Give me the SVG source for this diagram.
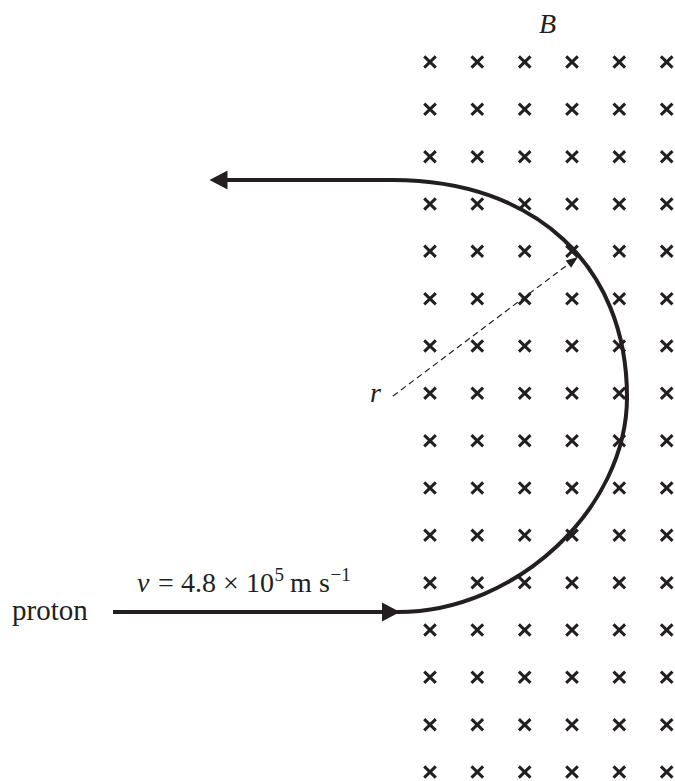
<svg xmlns="http://www.w3.org/2000/svg" xmlns:xlink="http://www.w3.org/1999/xlink" width="675" height="781" viewBox="0 0 675 781">
<style>
.t{font-family:"Liberation Serif","Times New Roman",serif;fill:#231f20}
.i{font-style:italic}
.path{fill:none;stroke:#231f20;stroke-width:4}
.dash{fill:none;stroke:#231f20;stroke-width:1.2;stroke-dasharray:6 4}
.head{fill:#231f20}
.x{stroke:#231f20;stroke-width:3;stroke-linecap:butt}
</style>
<defs>
<g id="cr"><path class="x" d="M-5.8 -5.6 L5.8 5.6 M-5.8 5.6 L5.8 -5.6"/></g>
</defs>
<rect width="675" height="781" fill="#ffffff"/>
<g id="field">
<g id="row0"><use xlink:href="#cr" x="430" y="62"/><use xlink:href="#cr" x="477.3" y="62"/><use xlink:href="#cr" x="524.7" y="62"/><use xlink:href="#cr" x="572" y="62"/><use xlink:href="#cr" x="619.3" y="62"/><use xlink:href="#cr" x="666.7" y="62"/></g>
<g id="row1"><use xlink:href="#cr" x="430" y="109.3"/><use xlink:href="#cr" x="477.3" y="109.3"/><use xlink:href="#cr" x="524.7" y="109.3"/><use xlink:href="#cr" x="572" y="109.3"/><use xlink:href="#cr" x="619.3" y="109.3"/><use xlink:href="#cr" x="666.7" y="109.3"/></g>
<g id="row2"><use xlink:href="#cr" x="430" y="156.7"/><use xlink:href="#cr" x="477.3" y="156.7"/><use xlink:href="#cr" x="524.7" y="156.7"/><use xlink:href="#cr" x="572" y="156.7"/><use xlink:href="#cr" x="619.3" y="156.7"/><use xlink:href="#cr" x="666.7" y="156.7"/></g>
<g id="row3"><use xlink:href="#cr" x="430" y="204"/><use xlink:href="#cr" x="477.3" y="204"/><use xlink:href="#cr" x="524.7" y="204"/><use xlink:href="#cr" x="572" y="204"/><use xlink:href="#cr" x="619.3" y="204"/><use xlink:href="#cr" x="666.7" y="204"/></g>
<g id="row4"><use xlink:href="#cr" x="430" y="251.3"/><use xlink:href="#cr" x="477.3" y="251.3"/><use xlink:href="#cr" x="524.7" y="251.3"/><use xlink:href="#cr" x="572" y="251.3"/><use xlink:href="#cr" x="619.3" y="251.3"/><use xlink:href="#cr" x="666.7" y="251.3"/></g>
<g id="row5"><use xlink:href="#cr" x="430" y="298.7"/><use xlink:href="#cr" x="477.3" y="298.7"/><use xlink:href="#cr" x="524.7" y="298.7"/><use xlink:href="#cr" x="572" y="298.7"/><use xlink:href="#cr" x="619.3" y="298.7"/><use xlink:href="#cr" x="666.7" y="298.7"/></g>
<g id="row6"><use xlink:href="#cr" x="430" y="346"/><use xlink:href="#cr" x="477.3" y="346"/><use xlink:href="#cr" x="524.7" y="346"/><use xlink:href="#cr" x="572" y="346"/><use xlink:href="#cr" x="619.3" y="346"/><use xlink:href="#cr" x="666.7" y="346"/></g>
<g id="row7"><use xlink:href="#cr" x="430" y="393.3"/><use xlink:href="#cr" x="477.3" y="393.3"/><use xlink:href="#cr" x="524.7" y="393.3"/><use xlink:href="#cr" x="572" y="393.3"/><use xlink:href="#cr" x="619.3" y="393.3"/><use xlink:href="#cr" x="666.7" y="393.3"/></g>
<g id="row8"><use xlink:href="#cr" x="430" y="440.7"/><use xlink:href="#cr" x="477.3" y="440.7"/><use xlink:href="#cr" x="524.7" y="440.7"/><use xlink:href="#cr" x="572" y="440.7"/><use xlink:href="#cr" x="619.3" y="440.7"/><use xlink:href="#cr" x="666.7" y="440.7"/></g>
<g id="row9"><use xlink:href="#cr" x="430" y="488"/><use xlink:href="#cr" x="477.3" y="488"/><use xlink:href="#cr" x="524.7" y="488"/><use xlink:href="#cr" x="572" y="488"/><use xlink:href="#cr" x="619.3" y="488"/><use xlink:href="#cr" x="666.7" y="488"/></g>
<g id="row10"><use xlink:href="#cr" x="430" y="535.3"/><use xlink:href="#cr" x="477.3" y="535.3"/><use xlink:href="#cr" x="524.7" y="535.3"/><use xlink:href="#cr" x="572" y="535.3"/><use xlink:href="#cr" x="619.3" y="535.3"/><use xlink:href="#cr" x="666.7" y="535.3"/></g>
<g id="row11"><use xlink:href="#cr" x="430" y="582.7"/><use xlink:href="#cr" x="477.3" y="582.7"/><use xlink:href="#cr" x="524.7" y="582.7"/><use xlink:href="#cr" x="572" y="582.7"/><use xlink:href="#cr" x="619.3" y="582.7"/><use xlink:href="#cr" x="666.7" y="582.7"/></g>
<g id="row12"><use xlink:href="#cr" x="430" y="630"/><use xlink:href="#cr" x="477.3" y="630"/><use xlink:href="#cr" x="524.7" y="630"/><use xlink:href="#cr" x="572" y="630"/><use xlink:href="#cr" x="619.3" y="630"/><use xlink:href="#cr" x="666.7" y="630"/></g>
<g id="row13"><use xlink:href="#cr" x="430" y="677.3"/><use xlink:href="#cr" x="477.3" y="677.3"/><use xlink:href="#cr" x="524.7" y="677.3"/><use xlink:href="#cr" x="572" y="677.3"/><use xlink:href="#cr" x="619.3" y="677.3"/><use xlink:href="#cr" x="666.7" y="677.3"/></g>
<g id="row14"><use xlink:href="#cr" x="430" y="724.7"/><use xlink:href="#cr" x="477.3" y="724.7"/><use xlink:href="#cr" x="524.7" y="724.7"/><use xlink:href="#cr" x="572" y="724.7"/><use xlink:href="#cr" x="619.3" y="724.7"/><use xlink:href="#cr" x="666.7" y="724.7"/></g>
<g id="row15"><use xlink:href="#cr" x="430" y="772"/><use xlink:href="#cr" x="477.3" y="772"/><use xlink:href="#cr" x="524.7" y="772"/><use xlink:href="#cr" x="572" y="772"/><use xlink:href="#cr" x="619.3" y="772"/><use xlink:href="#cr" x="666.7" y="772"/></g>
</g>
<g id="connectors">
<path id="trajectory" class="path" d="M113 612 L398 612 C516.4 612 627 508.2 627 397 C627 265.5 534.8 180 393 180 L224 180"/>
<polygon class="head" points="400,612 382,602.5 382,621.5"/>
<polygon class="head" points="209.5,180 227.5,170.5 227.5,189.5"/>
<path id="radius" class="dash" d="M393 396 L568.4 264.2"/>
<polygon class="head" points="578,257 571.1,267.8 565.7,260.6"/>
</g>
<g id="labels">
<text class="t i" x="539" y="33" font-size="28">B</text>
<text class="t i" x="370" y="402" font-size="28">r</text>
<text class="t" x="12" y="620" font-size="29">proton</text>
<text class="t" y="592" font-size="28"><tspan class="i" x="137">v</tspan><tspan x="158">=</tspan><tspan x="181">4.8</tspan><tspan x="223">×</tspan><tspan x="246">10</tspan><tspan x="274.5" y="581" font-size="19">5</tspan><tspan x="290" y="592">m</tspan><tspan x="319">s</tspan><tspan x="330.5" y="581" font-size="19">−1</tspan></text>
</g>
</svg>
